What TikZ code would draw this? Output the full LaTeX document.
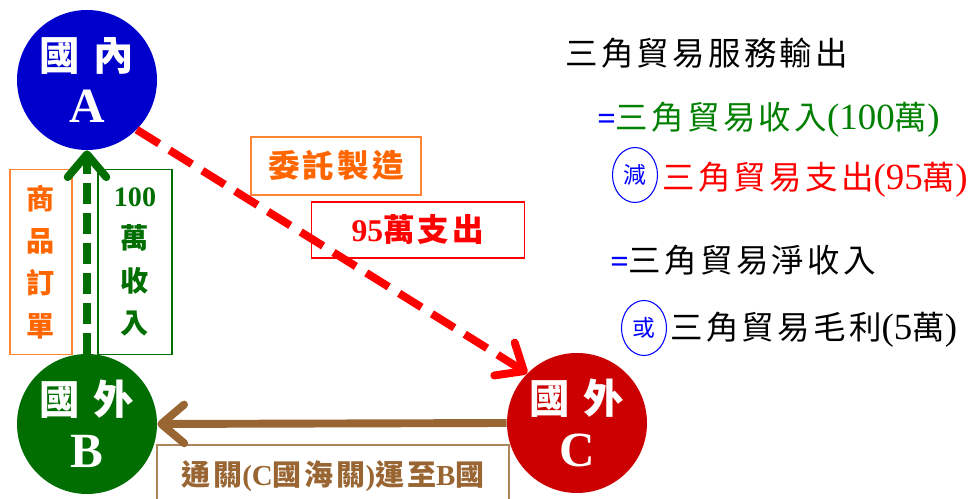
\documentclass[tikz,border=0pt]{standalone}
\usepackage{fontspec}
\setmainfont{Liberation Serif}
\newfontfamily\cjk[LetterSpace=10]{Noto Sans CJK TC}
\usetikzlibrary{arrows.meta,shapes.geometric}

\definecolor{ablue}{RGB}{0,0,204}
\definecolor{bgreen}{RGB}{0,110,0}
\definecolor{cred}{RGB}{204,0,0}
\definecolor{tradebrown}{RGB}{153,102,51}
\definecolor{orderorange}{RGB}{255,102,0}
\definecolor{eqgreen}{RGB}{0,128,0}

\newcommand{\px}{0.02cm}
\newcommand{\zh}[1]{{\cjk #1}}
\newcommand{\latin}[1]{{\fontsize{21}{20}\selectfont #1}}

\tikzset{
  country/.style={circle, minimum size=140*\px, inner sep=0pt, text=white,
    align=center, font=\bfseries\fontsize{23}{30}\selectfont},
  tag/.style={draw, line width=0.8pt, inner sep=0pt, align=center, font=\bfseries},
  flow/.style={line width=4.5pt, -{Straight Barb[length=13pt, width=22pt, round]}},
  sum/.style={anchor=west, inner sep=0pt, font=\fontsize{18.5}{20}\selectfont},
  sign/.style={ellipse, draw=blue, text=blue, line width=0.6pt, inner sep=0pt,
    minimum width=45*\px, minimum height=55*\px, font=\fontsize{13}{15}\selectfont},
}

\begin{document}
\begin{tikzpicture}[x=0.02cm, y=-0.02cm]
  \fill[white] (0,0) rectangle (975,499);
  \useasboundingbox (0,0) rectangle (975,499);

  % the three countries
  \node[country, fill=ablue] (A) at (87,80) {\zh{國 內}\\{\fontsize{28}{30}\selectfont A}};
  \node[country, fill=bgreen] (B) at (87,424) {\zh{國 外}\\{\fontsize{28}{30}\selectfont B}};
  \node[country, fill=cred] (C) at (577,423) {\zh{國 外}\\{\fontsize{28}{30}\selectfont C}};

  % labels on the flows
  \node[tag, draw=orderorange!80, text=orderorange, minimum width=62*\px, minimum height=185*\px,
    font=\bfseries\fontsize{16}{24}\selectfont] (order) at (41,262)
    {\zh{商}\\\zh{品}\\\zh{訂}\\\zh{單}};
  \node[tag, draw=bgreen, text=bgreen, minimum width=74*\px, minimum height=185*\px,
    font=\bfseries\fontsize{16}{24}\selectfont] (income) at (135,262)
    {100\\\zh{萬}\\\zh{收}\\\zh{入}};
  \node[tag, draw=orderorange!80, text=orderorange, minimum width=170*\px, minimum height=58*\px,
    font=\bfseries\fontsize{18}{20}\selectfont] (make) at (336,166) {\zh{委託製造}};
  \node[tag, draw=red, text=red, minimum width=213*\px, minimum height=56*\px,
    font=\bfseries\fontsize{18}{20}\selectfont] (pay) at (418,230) {95\zh{萬支出}};
  \node[tag, draw=tradebrown!80, text=tradebrown, minimum width=352*\px, minimum height=62*\px,
    font=\bfseries\fontsize{16.5}{20}\selectfont] (ship) at (333,476)
    {\zh{通關}(C\zh{國海關})\zh{運至}B\zh{國}};

  % flows
  \draw[flow, bgreen, dash pattern=on 12pt off 5pt] (B.north) -- (A.south);
  \draw[flow, red, dash pattern=on 15pt off 7pt] (A.-45) -- (C.135);
  \draw[flow, tradebrown] (C.west) -- (B.east);

  % the sums on the right
  \node[sum] (title) at (565,53) {\zh{三角貿易服務輸出}};
  \node[sum] (gain) at (597,120)
    {\textcolor{blue}{\textbf{=}}\textcolor{eqgreen}{\zh{三角貿易收入}\latin{(100}\zh{萬}\latin{)}}};
  \node[sign] (minus) at (635,175) {\zh{減}};
  \node[sum, text=red] (cost) at (662,180) {\zh{三角貿易支出}\latin{(95}\zh{萬}\latin{)}};
  \node[sum] (net) at (610,260) {\textcolor{blue}{\textbf{=}}\zh{三角貿易淨收入}};
  \node[sign] (or) at (644,328) {\zh{或}};
  \node[sum] (profit) at (670,330) {\zh{三角貿易毛利}\latin{(5}\zh{萬}\latin{)}};
\end{tikzpicture}
\end{document}
